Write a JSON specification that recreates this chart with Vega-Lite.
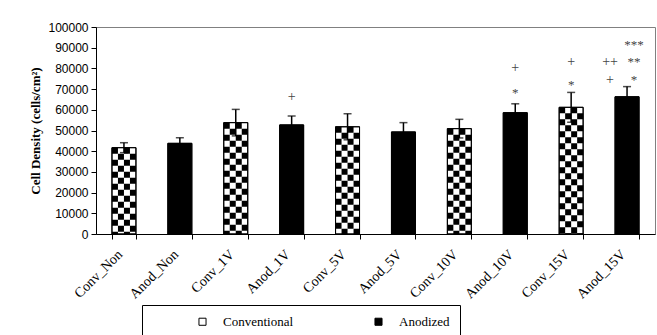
{
  "$schema": "https://vega.github.io/schema/vega-lite/v6.json",
  "width": 559,
  "height": 207,
  "autosize": "none",
  "padding": {"left": 96, "top": 27, "right": 2, "bottom": 101},
  "background": "white",
  "config": {
    "view": {"stroke": "#808080", "strokeWidth": 1},
    "axis": {"domainColor": "black", "tickColor": "black", "labelColor": "black", "titleColor": "black", "grid": false, "zindex": 1},
    "axisY": {
      "titleFont": "Liberation Serif", "titleFontSize": 13, "titleFontWeight": "bold", "titlePadding": 5,
      "labelFont": "Liberation Sans", "labelFontSize": 12, "tickCount": 10, "labelOverlap": false,
      "format": "d", "tickSize": 5, "labelPadding": 3
    }
  },
  "datasets": {
    "bars": [
      {"group": "Conv_Non", "type": "Conventional", "value": 41700, "lo": 39300, "hi": 44100},
      {"group": "Anod_Non", "type": "Anodized", "value": 43800, "lo": 41100, "hi": 46500},
      {"group": "Conv_1V", "type": "Conventional", "value": 53800, "lo": 47400, "hi": 60200},
      {"group": "Anod_1V", "type": "Anodized", "value": 52700, "lo": 48400, "hi": 57000},
      {"group": "Conv_5V", "type": "Conventional", "value": 51800, "lo": 45500, "hi": 58100},
      {"group": "Anod_5V", "type": "Anodized", "value": 49300, "lo": 44800, "hi": 53800},
      {"group": "Conv_10V", "type": "Conventional", "value": 50900, "lo": 46400, "hi": 55400},
      {"group": "Anod_10V", "type": "Anodized", "value": 58600, "lo": 54300, "hi": 62900},
      {"group": "Conv_15V", "type": "Conventional", "value": 61200, "lo": 54000, "hi": 68400},
      {"group": "Anod_15V", "type": "Anodized", "value": 66300, "lo": 61400, "hi": 71200}
    ],
    "annot": [
      {"group": "Anod_1V", "y": 66000, "label": "+", "kind": "plus", "pos": "c"},
      {"group": "Anod_10V", "y": 69600, "label": "*", "kind": "star", "pos": "c"},
      {"group": "Anod_10V", "y": 80300, "label": "+", "kind": "plus", "pos": "c"},
      {"group": "Conv_15V", "y": 73600, "label": "*", "kind": "star", "pos": "c"},
      {"group": "Conv_15V", "y": 83100, "label": "+", "kind": "plus", "pos": "c"},
      {"group": "Anod_15V", "y": 75700, "label": "*", "kind": "star", "pos": "r"},
      {"group": "Anod_15V", "y": 84400, "label": "**", "kind": "star", "pos": "r"},
      {"group": "Anod_15V", "y": 92600, "label": "***", "kind": "star", "pos": "r"},
      {"group": "Anod_15V", "y": 74300, "label": "+", "kind": "plus", "pos": "l"},
      {"group": "Anod_15V", "y": 83100, "label": "++", "kind": "plus", "pos": "l"}
    ]
  },
  "encoding": {
    "x": {
      "field": "group", "type": "nominal", "sort": null,
      "scale": {"paddingInner": 0.571, "paddingOuter": 0.2855},
      "axis": {
        "title": null, "labelAngle": -45, "labelFont": "Liberation Serif", "labelFontSize": 14,
        "tickBand": "extent", "tickSize": 5, "labelPadding": 8, "labelOffset": -9
      }
    }
  },
  "layer": [
    {
      "data": {"name": "bars"},
      "mark": {"type": "bar", "stroke": "black", "strokeWidth": 1},
      "encoding": {
        "y": {
          "field": "value", "type": "quantitative",
          "scale": {"domain": [0, 100000], "nice": false},
          "axis": {"title": "Cell Density (cells/cm²)"}
        },
        "color": {
          "field": "type", "type": "nominal",
          "scale": {"domain": ["Conventional", "Anodized"], "range": ["white", "black"]},
          "legend": {
            "title": null, "orient": "none", "legendX": 46, "legendY": 278, "direction": "horizontal",
            "strokeColor": "black", "fillColor": "white", "padding": 10,
            "symbolType": "square", "symbolSize": 50, "symbolStrokeColor": "black", "symbolStrokeWidth": 1,
            "symbolOffset": 44, "labelOffset": 14, "columnPadding": 34,
            "labelFont": "Liberation Serif", "labelFontSize": 13, "labelColor": "black"
          }
        }
      }
    },
    {
      "data": {"name": "bars"},
      "transform": [{"filter": "datum.type == 'Conventional'"}],
      "mark": {"type": "rule", "color": "black", "strokeWidth": 6, "strokeDash": [6, 6], "strokeDashOffset": 0, "xOffset": -9},
      "encoding": {"y": {"field": "value", "type": "quantitative"}, "y2": {"datum": 0}}
    },
    {
      "data": {"name": "bars"},
      "transform": [{"filter": "datum.type == 'Conventional'"}],
      "mark": {"type": "rule", "color": "black", "strokeWidth": 6, "strokeDash": [6, 6], "strokeDashOffset": 6, "xOffset": -3},
      "encoding": {"y": {"field": "value", "type": "quantitative"}, "y2": {"datum": 0}}
    },
    {
      "data": {"name": "bars"},
      "transform": [{"filter": "datum.type == 'Conventional'"}],
      "mark": {"type": "rule", "color": "black", "strokeWidth": 6, "strokeDash": [6, 6], "strokeDashOffset": 0, "xOffset": 3},
      "encoding": {"y": {"field": "value", "type": "quantitative"}, "y2": {"datum": 0}}
    },
    {
      "data": {"name": "bars"},
      "transform": [{"filter": "datum.type == 'Conventional'"}],
      "mark": {"type": "rule", "color": "black", "strokeWidth": 6, "strokeDash": [6, 6], "strokeDashOffset": 6, "xOffset": 9},
      "encoding": {"y": {"field": "value", "type": "quantitative"}, "y2": {"datum": 0}}
    },
    {
      "data": {"name": "bars"},
      "mark": {"type": "bar", "fill": null, "fillOpacity": 0, "stroke": "black", "strokeWidth": 1},
      "encoding": {"y": {"field": "value", "type": "quantitative"}}
    },
    {
      "data": {"name": "bars"},
      "mark": {"type": "rule", "color": "black", "strokeWidth": 1.5},
      "encoding": {"y": {"field": "lo", "type": "quantitative"}, "y2": {"field": "hi"}}
    },
    {
      "data": {"name": "bars"},
      "mark": {"type": "tick", "color": "black", "thickness": 1.5, "size": 8},
      "encoding": {"y": {"field": "hi", "type": "quantitative"}}
    },
    {
      "data": {"name": "bars"},
      "mark": {"type": "tick", "color": "black", "thickness": 1.5, "size": 8},
      "encoding": {"y": {"field": "lo", "type": "quantitative"}}
    },
    {
      "data": {"name": "annot"},
      "transform": [{"filter": "datum.kind == 'plus' && datum.pos == 'c'"}],
      "mark": {"type": "text", "font": "Liberation Serif", "fontSize": 14, "fill": "#444444", "baseline": "middle"},
      "encoding": {"y": {"field": "y", "type": "quantitative"}, "text": {"field": "label"}}
    },
    {
      "data": {"name": "annot"},
      "transform": [{"filter": "datum.kind == 'plus' && datum.pos == 'l'"}],
      "mark": {"type": "text", "font": "Liberation Serif", "fontSize": 14, "fill": "#444444", "baseline": "middle", "dx": -17},
      "encoding": {"y": {"field": "y", "type": "quantitative"}, "text": {"field": "label"}}
    },
    {
      "data": {"name": "annot"},
      "transform": [{"filter": "datum.kind == 'star' && datum.pos == 'c'"}],
      "mark": {"type": "text", "font": "Liberation Serif", "fontSize": 13, "fill": "#444444", "baseline": "middle", "dy": 3},
      "encoding": {"y": {"field": "y", "type": "quantitative"}, "text": {"field": "label"}}
    },
    {
      "data": {"name": "annot"},
      "transform": [{"filter": "datum.kind == 'star' && datum.pos == 'r'"}],
      "mark": {"type": "text", "font": "Liberation Serif", "fontSize": 13, "fill": "#444444", "baseline": "middle", "dy": 3, "dx": 7},
      "encoding": {"y": {"field": "y", "type": "quantitative"}, "text": {"field": "label"}}
    }
  ]
}
